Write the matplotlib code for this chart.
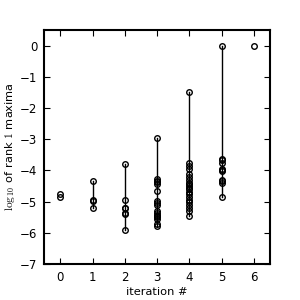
import matplotlib
matplotlib.use("Agg")
import matplotlib.pyplot as plt

plt.rcParams['mathtext.fontset'] = 'cm'

iterations = [0, 1, 2, 3, 4, 5, 6]
iter0 = [-4.75, -4.86]
iter1 = [-4.35, -4.95, -4.97, -5.21]
iter2 = [-3.80, -4.95, -5.20, -5.22, -5.35, -5.40, -5.92]
iter3 = [-2.97, -4.28, -4.33, -4.38, -4.42, -4.65, -4.97, -5.05, -5.12,
         -5.30, -5.38, -5.42, -5.45, -5.50, -5.55, -5.72, -5.78]
iter4 = [-1.50, -3.75, -3.85, -3.95, -4.10, -4.20, -4.30, -4.40, -4.45,
         -4.50, -4.55, -4.60, -4.70, -4.75, -4.85, -4.95, -5.00, -5.10,
         -5.20, -5.30, -5.45]
iter5 = [0.0, -3.62, -3.68, -3.75, -3.95, -3.98, -4.02, -4.30, -4.35,
         -4.40, -4.85]
iter6 = [0.0]
series = [iter0, iter1, iter2, iter3, iter4, iter5, iter6]

yticks = [0, -1, -2, -3, -4, -5, -6, -7]

fig = plt.figure(figsize=(3, 3), dpi=100)
ax = fig.add_axes([0.147, 0.12, 0.753, 0.78])

for it, vals in zip(iterations, series):
    if len(vals) > 1 and max(vals) - min(vals) > 0.5:
        ax.plot([it, it], [min(vals), max(vals)], color='black', lw=1, zorder=1)
    ax.plot([it] * len(vals), vals, linestyle='none', marker='o',
            markersize=4, markerfacecolor='none', markeredgecolor='black',
            markeredgewidth=1, zorder=2)

ax.set_xlim(-0.5, 6.5)
ax.set_ylim(-7, 0.5)
ax.set_xticks(iterations)
ax.set_yticks(yticks)
ax.tick_params(direction='in', top=True, right=True, labelsize=8.5, length=4, pad=5)
for s in ax.spines.values():
    s.set_linewidth(1.5)
ax.set_xlabel('iteration #', fontsize=8.2, labelpad=2)
ax.set_ylabel(r'$\log_{10}$ of rank $1$ maxima', fontsize=8.2, labelpad=2)

fig.savefig('out.png', dpi=100)
